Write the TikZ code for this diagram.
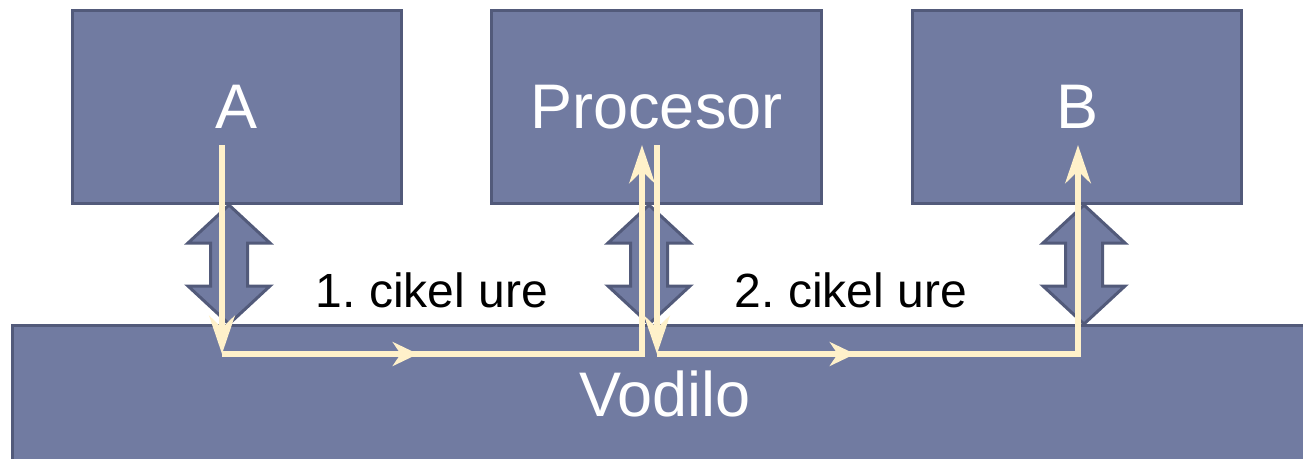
\documentclass[tikz,border=0pt]{standalone}
\usepackage{fontspec}
\setmainfont{Liberation Sans}
\usetikzlibrary{arrows.meta}
\definecolor{boxfill}{HTML}{717BA1}
\definecolor{boxline}{HTML}{525A7A}
\definecolor{cream}{HTML}{FFF1CA}
\frenchspacing
\begin{document}
\begin{tikzpicture}[x=0.75pt,y=-0.75pt,
  box/.style={draw=boxline, fill=boxfill, line width=2.25pt, inner sep=0pt, text=white,
    font=\fontsize{47.25}{50}\selectfont},
  yl/.style={draw=cream, line width=4.9pt},
  yv/.style={yl, -{Stealth[length=28.5pt,width=19pt,inset=9pt]}},
  yh/.style={yl, -{Stealth[length=19pt,width=18pt,inset=6pt]}},
  lbl/.style={font=\fontsize{36}{40}\selectfont, text=black, inner sep=0pt, anchor=base},
  dbl/.style={draw=boxline, fill=boxfill, line width=2.25pt, line join=miter},
  updown/.pic={\path[dbl] (0,-59.5) -- (41,-21.5) -- (18.5,-21.5) -- (18.5,21.5) -- (41,21.5)
    -- (0,59.5) -- (-41,21.5) -- (-18.5,21.5) -- (-18.5,-21.5) -- (-41,-21.5) -- cycle;}
]
\useasboundingbox (0,0) rectangle (1303,458);
\clip (0,0) rectangle (1303,458);
% bus
\node[box, minimum width={1305*0.75pt}, minimum height={137*0.75pt}] (V) at (665,394) {Vodilo};
% units
\node[box, minimum width={329*0.75pt}, minimum height={193*0.75pt}] (A) at (237,107) {A};
\node[box, minimum width={330*0.75pt}, minimum height={193*0.75pt}] (P) at (656.5,107) {Procesor};
\node[box, minimum width={329*0.75pt}, minimum height={193*0.75pt}] (B) at (1077,107) {B};
% double arrows
\pic at (229,264.5) {updown};
\pic at (649,264.5) {updown};
\pic at (1084,264.5) {updown};
% labels
\node[lbl] (c1) at (432,307) {1. cikel ure};
\node[lbl] (c2) at (851,307) {2. cikel ure};
% data paths
\coordinate (a1) at (222,145);
\coordinate (a2) at (222,354);
\coordinate (m1) at (418,354);
\coordinate (p1) at (642,354);
\coordinate (p2) at (642,145);
\coordinate (p3) at (657,145);
\coordinate (p4) at (657,354);
\coordinate (m2) at (855,354);
\coordinate (b1) at (1078,354);
\coordinate (b2) at (1078,145);
\draw[yv] (a1) -- (a2);
\draw[yv] (a2) -- (p1) -- (p2);
\draw[yh] (a2) -- (m1);
\draw[yv] (p3) -- (p4);
\draw[yv] (p4) -- (b1) -- (b2);
\draw[yh] (p4) -- (m2);
\end{tikzpicture}
\end{document}
